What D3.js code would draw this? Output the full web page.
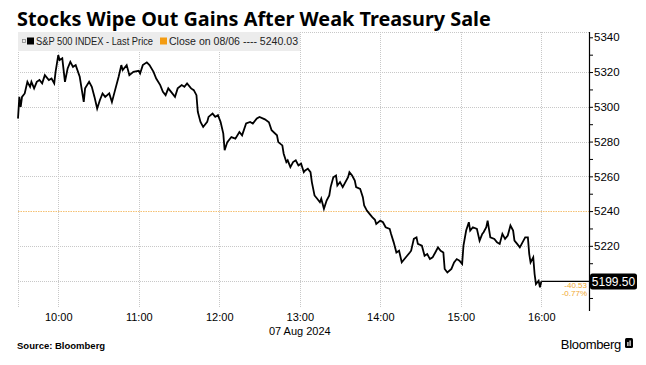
<!DOCTYPE html>
<html><head><meta charset="utf-8">
<script src="https://cdn.jsdelivr.net/npm/d3@7"></script>
<style>body{margin:0;background:#fff}</style>
</head><body><svg id="c" width="646" height="365"></svg>
<script>
const title = "Stocks Wipe Out Gains After Weak Treasury Sale";
const seriesName = "S&P 500 INDEX - Last Price";
const closeLabel = "Close on 08/06 ---- 5240.03";
const prevClose = 5240.03;
const lastPrice = 5199.50;
const changeLabels = ["-40.53", "-0.77%"];
const dateLabel = "07 Aug 2024";
const sourceLabel = "Source: Bloomberg";

const times = ["09:30","09:31","09:32","09:33","09:35","09:37","09:39","09:40","09:42","09:44","09:46","09:48","09:50","09:53","09:55","09:57","09:58",
"10:00","10:01","10:03","10:05","10:07","10:09","10:11","10:13","10:16","10:19","10:20","10:23","10:25","10:27","10:29","10:31","10:33","10:35","10:38","10:40","10:42","10:45","10:47","10:48","10:51","10:53","10:56",
"11:00","11:01","11:03","11:06","11:08","11:11","11:13","11:16","11:18","11:20","11:22","11:25","11:27","11:29","11:32","11:34","11:36","11:39","11:41","11:43","11:44","11:46","11:48","11:51","11:52","11:55","11:57","11:59",
"12:01","12:03","12:04","12:06","12:09","12:12","12:15","12:17","12:20","12:23","12:25","12:28","12:30","12:34","12:37","12:39","12:43","12:44","12:47","12:48","12:50","12:51","12:53","12:55","12:57","12:59",
"13:01","13:03","13:04","13:06","13:08","13:09","13:11","13:13","13:15","13:16","13:18","13:20","13:22","13:23","13:25","13:27","13:28","13:30","13:32","13:34","13:36","13:37","13:39","13:41","13:42","13:45","13:47","13:48","13:50","13:52","13:54","13:56","13:57",
"14:00","14:02","14:04","14:07","14:08","14:10","14:12","14:14","14:16","14:18","14:20","14:22","14:23","14:25","14:27","14:28","14:31","14:33","14:35","14:37","14:39","14:41","14:43","14:45","14:47","14:48","14:50","14:53","14:55","14:57","14:59",
"15:01","15:02","15:04","15:06","15:07","15:09","15:12","15:14","15:16","15:17","15:19","15:20","15:22","15:25","15:27","15:29","15:31","15:33","15:35","15:37","15:39","15:40","15:42","15:44","15:46","15:48","15:50","15:51","15:52","15:54","15:55","15:56","15:58","15:59","16:00"];

const prices = [5293.3,5305.7,5299.9,5305.7,5307.7,5314.4,5311.5,5314.4,5310.6,5314.4,5315.4,5313.5,5318.2,5315.4,5316.3,5313.5,5320.1,
5329.8,5326.9,5327.9,5314.4,5322.1,5325.9,5323.0,5324.0,5317.3,5302.8,5310.6,5314.4,5311.5,5305.7,5299.0,5303.8,5307.7,5305.7,5307.7,5302.8,5308.6,5317.3,5324.0,5321.1,5324.0,5318.2,5320.1,
5320.7,5319.2,5324.0,5325.6,5324.0,5320.1,5316.3,5312.5,5308.6,5306.7,5310.6,5307.7,5305.7,5310.6,5312.5,5311.5,5313.5,5310.6,5309.6,5306.7,5297.1,5291.3,5288.4,5291.3,5294.2,5296.1,5294.2,5295.2,
5291.3,5284.6,5275.0,5279.7,5282.6,5281.7,5285.5,5283.6,5290.4,5291.3,5290.4,5293.3,5294.2,5292.8,5291.1,5286.5,5283.6,5279.7,5277.8,5273.0,5268.2,5269.2,5265.3,5268.2,5269.2,5266.3,
5267.3,5262.4,5263.4,5264.4,5262.4,5256.7,5249.0,5247.1,5245.1,5247.1,5241.3,5246.1,5249.0,5253.8,5259.5,5260.5,5254.7,5256.7,5253.8,5256.7,5259.5,5262.4,5260.5,5257.6,5253.8,5252.8,5248.0,5243.2,5240.3,5238.4,5236.5,5235.0,5232.6,
5234.5,5233.6,5230.7,5229.8,5226.9,5222.0,5216.2,5217.2,5210.5,5212.4,5214.3,5216.2,5217.2,5224.0,5224.9,5221.1,5220.1,5214.3,5215.3,5212.4,5213.4,5216.2,5219.1,5217.2,5216.2,5206.7,5204.7,5206.7,5210.5,5212.4,5211.5,
5209.6,5220.1,5228.8,5233.6,5228.8,5230.7,5229.8,5223.0,5226.9,5227.8,5230.7,5234.5,5224.9,5224.0,5222.0,5221.1,5226.9,5224.0,5225.9,5231.7,5228.8,5223.0,5221.1,5219.1,5222.0,5224.9,5224.9,5215.3,5210.5,5213.4,5203.8,5198.0,5199.9,5196.1,5199.5];

const hourTicks = ["10:00","11:00","12:00","13:00","14:00","15:00","16:00"];
const priceTicks = [5190,5200,5210,5220,5230,5240,5250,5260,5270,5280,5290,5300,5310,5320,5330,5340];
const priceLabels = [5220,5240,5260,5280,5300,5320,5340];
const gridPrices = [5200,5220,5260,5280,5300,5320];

const parse = d3.timeParse("%H:%M");
const data = times.map((t,i)=>({t:parse(t), v:prices[i]}));

const svg = d3.select("#c");
const FONT = "'Liberation Sans', Arial, sans-serif";
const plotL = 18, plotT = 32, plotB = 308, axisX = 589;

const x = d3.scaleTime().domain([parse("09:30"), parse("16:00")]).range([18, 541.3]);
const y = d3.scaleLinear().domain([5200, 5340]).range([280.6, 37.3]);

// title
const tt = svg.append("text").attr("x", 17).attr("y", 26).text(title)
  .attr("font-family", "'Noto Sans', 'DejaVu Sans', sans-serif").attr("font-weight", 700)
  .attr("font-size", 19).attr("fill", "#000");
const tw = tt.node().getComputedTextLength();
tt.attr("font-size", 19 * 474 / tw);

// grid
const grid = svg.append("g").attr("stroke", "#c8c8c8").attr("stroke-width", 1).attr("stroke-dasharray", "1,1");
grid.append("line").attr("x1", plotL).attr("x2", axisX).attr("y1", plotT+0.5).attr("y2", plotT+0.5);
grid.append("line").attr("x1", plotL+0.5).attr("x2", plotL+0.5).attr("y1", plotT).attr("y2", plotB);
grid.selectAll(".h").data(gridPrices).join("line")
  .attr("x1", plotL).attr("x2", axisX).attr("y1", d=>Math.round(y(d))+0.5).attr("y2", d=>Math.round(y(d))+0.5);
grid.selectAll(".v").data(hourTicks).join("line")
  .attr("x1", d=>Math.round(x(parse(d)))+0.5).attr("x2", d=>Math.round(x(parse(d)))+0.5).attr("y1", plotT).attr("y2", plotB);

// previous close line
svg.append("line").attr("x1", plotL).attr("x2", axisX)
  .attr("y1", Math.round(y(prevClose))+0.5).attr("y2", Math.round(y(prevClose))+0.5)
  .attr("stroke", "#f5c173").attr("stroke-width", 1).attr("stroke-dasharray", "1.5,1");

// legend
const lg = svg.append("g");
lg.append("rect").attr("x", 18).attr("y", 32).attr("width", 282).attr("height", 19).attr("fill", "#ececec");
lg.append("rect").attr("x", 22.5).attr("y", 39.5).attr("width", 3).attr("height", 3).attr("fill", "none").attr("stroke", "#888").attr("stroke-width", 0.8);
lg.append("rect").attr("x", 27).attr("y", 37.5).attr("width", 7).attr("height", 7).attr("fill", "#000");
lg.append("text").attr("x", 36).attr("y", 45).text(seriesName)
  .attr("font-family", FONT).attr("font-size", 10).attr("fill", "#222")
  .attr("textLength", 117).attr("lengthAdjust", "spacingAndGlyphs");
lg.append("rect").attr("x", 160).attr("y", 37.5).attr("width", 7).attr("height", 7).attr("fill", "#f39c12");
lg.append("text").attr("x", 169).attr("y", 45).text(closeLabel)
  .attr("font-family", FONT).attr("font-size", 10).attr("fill", "#222")
  .attr("textLength", 129).attr("lengthAdjust", "spacingAndGlyphs");

// price line
const line = d3.line().x(d=>x(d.t)).y(d=>y(d.v));
svg.append("path").datum(data).attr("d", line).attr("fill", "none")
  .attr("stroke", "#000").attr("stroke-width", 1.8).attr("stroke-linejoin", "miter");

// last value extension
const last = data[data.length-1];
svg.append("line").attr("x1", x(last.t)).attr("x2", axisX)
  .attr("y1", y(lastPrice)).attr("y2", y(lastPrice)).attr("stroke", "#000").attr("stroke-width", 1.2);

// right axis
const ax = d3.axisRight(y).tickValues(priceTicks).tickSize(4)
  .tickFormat(d => priceLabels.includes(d) ? d3.format("d")(d) : "");
const ag = svg.append("g").attr("transform", `translate(${axisX},0)`).call(ax);
ag.select(".domain").remove();
ag.selectAll(".tick line").attr("stroke", "#000");
ag.selectAll(".tick text").attr("x", 5).attr("font-family", FONT).attr("font-size", 11.5).attr("fill", "#000");
svg.append("line").attr("x1", axisX+0.5).attr("x2", axisX+0.5).attr("y1", plotT).attr("y2", 311).attr("stroke", "#000").attr("stroke-width", 1.2);

// bottom axis labels
const bx = d3.axisBottom(x).tickValues(hourTicks.map(parse)).tickSize(0).tickFormat(d3.timeFormat("%H:%M"));
const bg = svg.append("g").attr("transform", `translate(0,${plotB})`).call(bx);
bg.select(".domain").remove();
bg.selectAll(".tick text").attr("y", 5).attr("font-family", FONT).attr("font-size", 11).attr("fill", "#000");
svg.append("text").attr("x", x(parse("13:00"))).attr("y", 335).attr("text-anchor", "middle").text(dateLabel)
  .attr("font-family", FONT).attr("font-size", 11).attr("fill", "#000");

// last price label
const ly = y(lastPrice);
svg.append("rect").attr("x", 590).attr("y", ly - 8).attr("width", 47).attr("height", 16).attr("rx", 2.5).attr("fill", "#000");
svg.append("text").attr("x", 613.5).attr("y", ly + 4.3).attr("text-anchor", "middle").text(d3.format(".2f")(lastPrice))
  .attr("font-family", FONT).attr("font-size", 12).attr("fill", "#fff");
svg.selectAll(".chg").data(changeLabels).join("text")
  .attr("x", 587).attr("y", (d,i)=> ly + 7 + i*8).attr("text-anchor", "end").text(d=>d)
  .attr("font-family", FONT).attr("font-size", 8).attr("fill", "#f0a830");

// footer
svg.append("text").attr("x", 17).attr("y", 349).text(sourceLabel)
  .attr("font-family", FONT).attr("font-weight", 700).attr("font-size", 9.5).attr("fill", "#000");
svg.append("text").attr("x", 621).attr("y", 349).attr("text-anchor", "end").text("Bloomberg")
  .attr("font-family", FONT).attr("font-size", 13).attr("fill", "#000").attr("letter-spacing", -0.3);
svg.append("rect").attr("x", 625).attr("y", 338).attr("width", 8).attr("height", 10).attr("rx", 1.5).attr("fill", "#000");
svg.append("rect").attr("x", 627.3).attr("y", 342).attr("width", 1.2).attr("height", 4).attr("fill", "#fff");
svg.append("rect").attr("x", 629.5).attr("y", 340.5).attr("width", 1.2).attr("height", 5.5).attr("fill", "#fff");
</script></body></html>
